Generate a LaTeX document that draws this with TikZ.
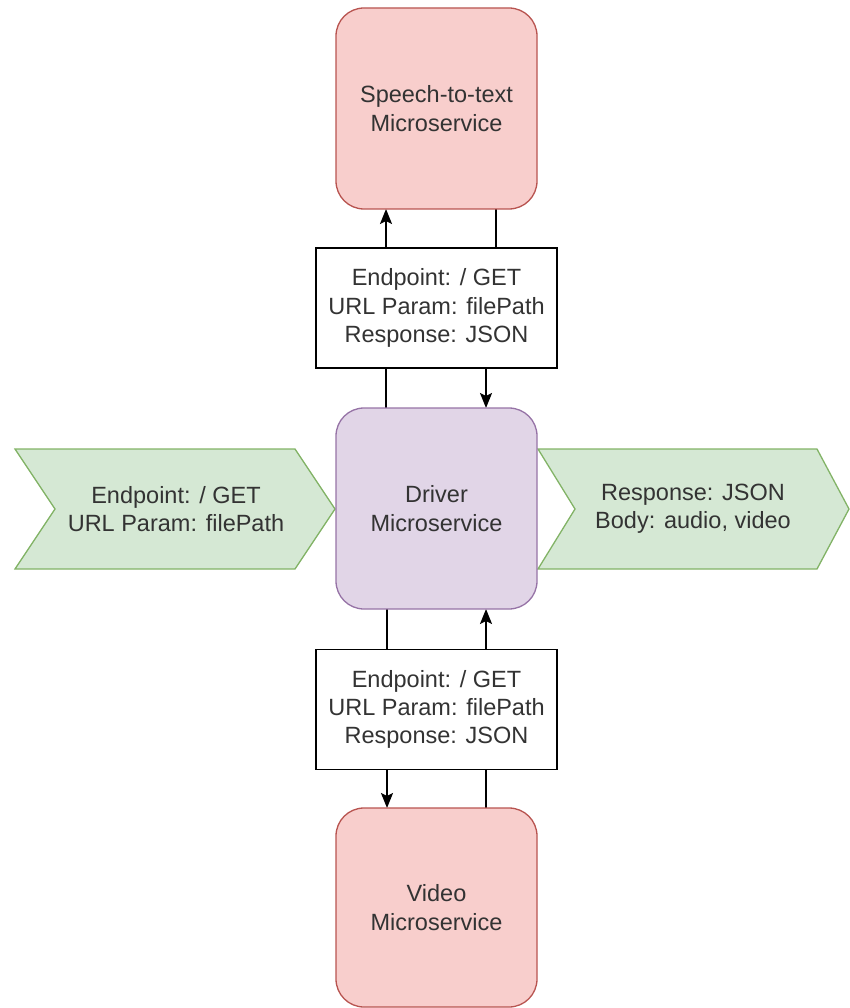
\documentclass[tikz,border=0pt]{standalone}
\usepackage{fontspec}
\setmainfont{Liberation Sans}
\usetikzlibrary{arrows.meta}
\definecolor{pinkfill}{HTML}{F8CECC}
\definecolor{pinkline}{HTML}{B85450}
\definecolor{purpfill}{HTML}{E1D5E7}
\definecolor{purpline}{HTML}{9673A6}
\definecolor{grnfill}{HTML}{D5E8D4}
\definecolor{grnline}{HTML}{82B366}
\definecolor{txt}{HTML}{333333}
\pgfdeclarelayer{bg}
\pgfsetlayers{bg,main}
\tikzset{
  lbl/.style={font=\fontsize{23.5}{28.3}\selectfont, text=txt, align=center},
  svc/.style={lbl, rounded corners=28pt, minimum width=201pt, minimum height=201pt, line width=1.3pt, inner sep=0pt, outer sep=0pt},
  pinkbox/.style={svc, fill=pinkfill, draw=pinkline},
  purpbox/.style={svc, fill=purpfill, draw=purpline},
  apibox/.style={lbl, draw=black, fill=white, line width=1.3pt, minimum width=241pt, minimum height=120pt, inner sep=0pt, outer sep=0pt},
  chev/.style={fill=grnfill, draw=grnline, line width=1.3pt, line join=miter},
  conn/.style={draw=black, line width=1.8pt},
  arr/.style={conn, -{Stealth[length=15pt,width=12pt,inset=3pt]}}
}
\begin{document}
\begin{tikzpicture}[x=1pt,y=-1pt]
\useasboundingbox (0,0) rectangle (849,1008);
% chevrons
\draw[chev] (15,449) -- (295,449) -- (335,509) -- (295,569) -- (15,569) -- (55,509) -- cycle;
\draw[chev] (538,449) -- (817,449) -- (849,509) -- (817,569) -- (538,569) -- (575,509) -- cycle;
\node[lbl] (inleft) at (176,509) {Endpoint: / GET\\URL Param: filePath};
\node[lbl] (outright) at (693,509) {Response: JSON\\Body: audio, video};
% services
\node[pinkbox] (speech) at (436.5,108.5) {Speech-to-text\\Microservice};
\node[purpbox] (driver) at (436.5,508.5) {Driver\\Microservice};
\node[pinkbox, minimum height=199pt] (video) at (436.5,907.5) {Video\\Microservice};
% api labels
\node[apibox] (labtop) at (436.5,308) {Endpoint: / GET\\URL Param: filePath\\Response: JSON};
\node[apibox] (labbot) at (436.5,709.5) {Endpoint: / GET\\URL Param: filePath\\Response: JSON};
% connectors
\begin{pgfonlayer}{bg}
\draw[arr] ([xshift=-50.5pt]driver.north) -- ([xshift=-50.5pt]speech.south);
\draw[arr] ([xshift=59.5pt]speech.south) -- ([xshift=59.5pt]labtop.center) -- ([xshift=49.5pt]labtop.center) -- ([xshift=49.5pt]driver.north);
\draw[arr] ([xshift=-49.5pt]driver.south) -- ([xshift=-49.5pt]video.north);
\draw[arr] ([xshift=49.5pt]video.north) -- ([xshift=49.5pt]driver.south);
\end{pgfonlayer}
\end{tikzpicture}
\end{document}
